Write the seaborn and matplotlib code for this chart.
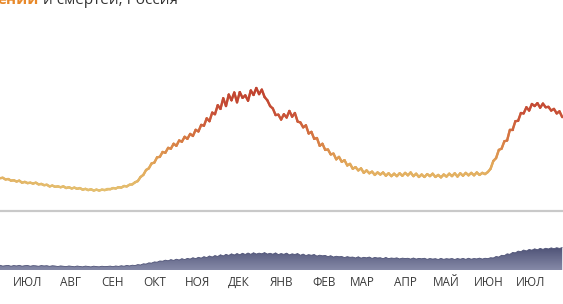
import numpy as np
import pandas as pd
import matplotlib
matplotlib.use("Agg")
import matplotlib.pyplot as plt
import matplotlib.transforms as mtransforms
from matplotlib.collections import LineCollection
from matplotlib.colors import LinearSegmentedColormap, Normalize
import seaborn as sns

# ---------------- data ----------------
start_date = "2020-06-11"
step_days = 2

cases_k = [
    8.0, 8.1, 7.7, 7.8, 7.4, 7.5, 7.2, 7.4, 6.9, 7.1,
    6.8, 6.9, 6.7, 6.9, 6.5, 6.6, 6.3, 6.4, 6.0, 6.2,
    5.9, 6.0, 5.8, 6.0, 5.6, 5.8, 5.5, 5.7, 5.4, 5.6,
    5.2, 5.4, 5.1, 5.3, 5.0, 5.2, 5.0, 5.2, 5.1, 5.3,
    5.3, 5.6, 5.5, 5.8, 5.7, 6.1, 6.0, 6.4, 6.5, 7.0,
    7.3, 8.3, 8.8, 10.0, 10.4, 11.6, 11.8, 13.1, 13.2, 14.4,
    14.2, 15.4, 15.2, 16.4, 15.9, 17.2, 16.9, 18.1, 17.6, 18.8,
    18.3, 19.8, 19.4, 21.0, 20.8, 22.6, 21.9, 24.0, 23.6, 25.8,
    24.9, 27.5, 25.6, 28.4, 27.0, 28.9, 26.5, 29.0, 27.6, 28.2,
    26.9, 29.4, 28.3, 30.0, 28.5, 29.6, 27.8, 27.0, 25.6, 25.0,
    23.4, 23.5, 22.3, 23.6, 22.8, 24.4, 23.0, 23.9, 21.8, 21.6,
    20.4, 20.9, 18.9, 19.3, 17.6, 17.8, 15.9, 16.4, 14.9, 15.0,
    13.8, 14.0, 12.6, 13.2, 12.0, 12.4, 11.1, 11.5, 10.3, 10.7,
    9.9, 10.4, 9.3, 9.9, 9.2, 9.6, 8.8, 9.4, 8.9, 9.4,
    8.6, 9.2, 8.5, 9.1, 8.5, 9.2, 8.6, 9.3, 8.7, 9.4,
    8.5, 9.1, 8.3, 8.9, 8.3, 9.0, 8.5, 9.1, 8.3, 8.8,
    8.2, 8.9, 8.4, 9.1, 8.5, 9.2, 8.4, 9.2, 8.6, 9.3,
    8.7, 9.3, 8.7, 9.4, 8.8, 9.3, 9.0, 9.5, 10.3, 12.2,
    12.9, 14.9, 15.2, 17.0, 17.2, 19.8, 19.8, 21.9, 22.0, 23.9,
    23.8, 25.3, 24.5, 26.1, 25.6, 26.3, 25.2, 26.2, 25.3, 25.4,
    24.5, 24.9, 23.8, 24.3, 22.9,
]

deaths = [
    175, 145, 160, 170, 140, 165, 150, 172, 142, 160,
    168, 140, 162, 155, 138, 165, 150, 160, 135, 158,
    148, 128, 152, 140, 125, 150, 135, 120, 148, 130,
    118, 145, 128, 115, 142, 126, 118, 140, 125, 132,
    145, 122, 150, 132, 158, 140, 170, 150, 178, 165,
    200, 185, 230, 220, 265, 255, 300, 290, 335, 325,
    365, 340, 385, 355, 400, 370, 420, 385, 430, 405,
    455, 420, 470, 440, 495, 460, 520, 480, 535, 500,
    565, 520, 580, 540, 600, 555, 610, 565, 620, 575,
    630, 580, 640, 590, 625, 600, 645, 590, 620, 585,
    635, 570, 610, 580, 625, 560, 600, 575, 610, 545,
    590, 535, 570, 545, 575, 515, 550, 525, 540, 495,
    530, 480, 510, 490, 500, 460, 495, 470, 480, 445,
    490, 440, 470, 450, 480, 430, 465, 445, 455, 420,
    465, 420, 445, 430, 450, 410, 440, 425, 435, 405,
    445, 405, 430, 415, 435, 395, 425, 405, 420, 390,
    430, 395, 420, 405, 425, 390, 425, 400, 430, 395,
    435, 400, 425, 410, 440, 405, 435, 420, 455, 445,
    500, 480, 545, 530, 600, 580, 650, 635, 700, 680,
    740, 705, 760, 735, 785, 750, 800, 765, 805, 780,
    820, 790, 825, 800, 830,
]

month_labels = ["ИЮЛ", "АВГ", "СЕН", "ОКТ", "НОЯ", "ДЕК", "ЯНВ",
                "ФЕВ", "МАР", "АПР", "МАЙ", "ИЮН", "ИЮЛ"]
month_starts = ["2020-07-01", "2020-08-01", "2020-09-01", "2020-10-01",
                "2020-11-01", "2020-12-01", "2021-01-01", "2021-02-01",
                "2021-03-01", "2021-04-01", "2021-05-01", "2021-06-01",
                "2021-07-01"]

title_accent = "ений"
title_rest = " и смертей, Россия"

# ---------------- frame ----------------
t0 = pd.Timestamp(start_date)
dates = pd.date_range(t0, periods=len(cases_k), freq=f"{step_days}D")
df = pd.DataFrame({
    "day": (dates - t0).days.astype(float),
    "cases": cases_k,
    "deaths": deaths,
})
tick_days = [(pd.Timestamp(m) - t0).days for m in month_starts]

sns.set_theme(style="white")
plt.rcParams["font.family"] = ["Open Sans", "DejaVu Sans"]

W, H = 563, 304
PX_PER_DAY = 1.378
fig = plt.figure(figsize=(W / 100, H / 100), dpi=100)
fig.patch.set_facecolor("white")
xmax = W / PX_PER_DAY

# ---- top: cases line ----
zero_y = 211
top_h = 151
ax1 = fig.add_axes([0, (H - zero_y) / H, 1, top_h / H])
ax1.set_xlim(0, xmax)
ax1.set_ylim(0, top_h / 4.1)
ax1.axis("off")

sns.lineplot(data=df, x="day", y="cases", ax=ax1, color="#e0a050",
             linewidth=1.6, legend=False)
cmap = LinearSegmentedColormap.from_list(
    "heat", ["#e4c070", "#e2a85a", "#d77a44", "#c8503a", "#bf4030"])
norm = Normalize(vmin=5, vmax=30)
pts = np.column_stack([df["day"].values, df["cases"].values]).reshape(-1, 1, 2)
segs = np.concatenate([pts[:-1], pts[1:]], axis=1)
mid = (df["cases"].values[:-1] + df["cases"].values[1:]) / 2
lc = LineCollection(segs, cmap=cmap, norm=norm, linewidth=1.7,
                    capstyle="round", joinstyle="round", zorder=3)
lc.set_array(mid)
ax1.add_collection(lc)
ax1.axhline(0, color="#c9c9c9", linewidth=1.6, clip_on=False, zorder=1)

# ---- bottom: deaths area ----
base_y = 270
bot_h = 45
ax2 = fig.add_axes([0, (H - base_y) / H, 1, bot_h / H])
ymax2 = bot_h / 0.027
ax2.set_xlim(0, xmax)
ax2.set_ylim(0, ymax2)
ax2.axis("off")

poly = ax2.fill_between(df["day"], 0, df["deaths"], color="none", lw=0)
grad = np.linspace(0, 1, 256).reshape(-1, 1)
gcmap = LinearSegmentedColormap.from_list("slate", ["#868aa8", "#4e5276"])
im = ax2.imshow(grad, cmap=gcmap, aspect="auto", origin="lower",
                extent=[0, xmax, 0, max(deaths)], zorder=2)
path = poly.get_paths()[0]
im.set_clip_path(path, transform=ax2.transData)
sns.lineplot(data=df, x="day", y="deaths", ax=ax2, color="#4e5276",
             linewidth=0.6, legend=False)
ax2.set_xlim(0, xmax)
ax2.set_ylim(0, ymax2)

# ---- month labels ----
trans = mtransforms.blended_transform_factory(ax2.transData, fig.transFigure)
for d, lab in zip(tick_days, month_labels):
    ax2.text(d, 1 - 282 / H, lab, transform=trans, ha="center", va="center",
             fontsize=8.5, color="#3a3a3a", clip_on=False)

# ---- title (cut at top, as in the reference) ----
t1 = fig.text(-0.004, 1 - 4 / H, title_accent, color="#e8892a",
              fontsize=11, fontweight="bold", va="baseline", ha="left")
fig.canvas.draw()
bb = t1.get_window_extent(renderer=fig.canvas.get_renderer())
fig.text(bb.x1 / W, 1 - 4 / H, title_rest, color="#333333",
         fontsize=11, va="baseline", ha="left")

fig.savefig("out.png", dpi=100, facecolor="white")
